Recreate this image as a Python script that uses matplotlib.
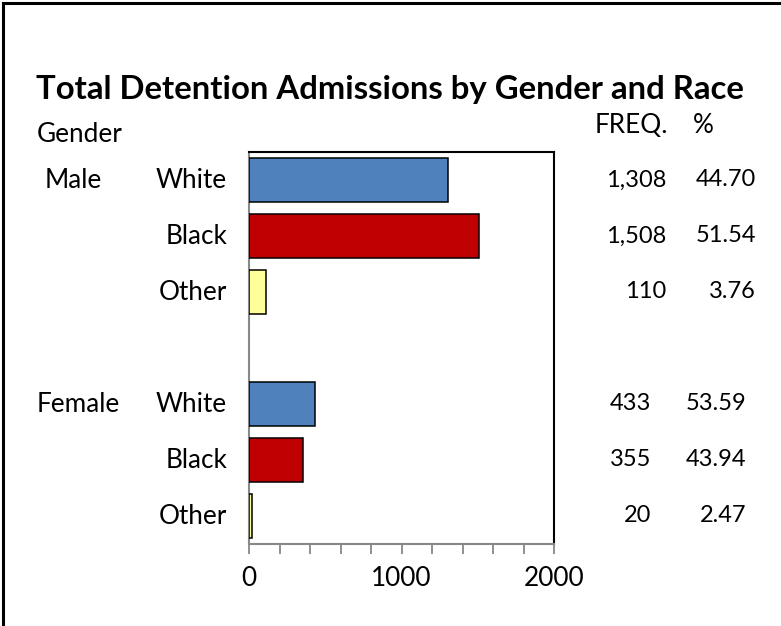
import matplotlib
matplotlib.use("Agg")
import matplotlib.pyplot as plt
import matplotlib.transforms as mtransforms
from matplotlib.ticker import MultipleLocator

# ---- data ----
title = "Total Detention Admissions by Gender and Race"
genders = ["Male", "Female"]
races = ["White", "Black", "Other"]
male_freq = [1308, 1508, 110]
female_freq = [433, 355, 20]
male_pct = [44.70, 51.54, 3.76]
female_pct = [53.59, 43.94, 2.47]
race_colors = ["#4F81BD", "#C00000", "#FFFF99"]
x_ticks = [0, 1000, 2000]

W, H = 781, 626
plt.rcParams['font.family'] = ['Lato', 'DejaVu Sans']
fig = plt.figure(figsize=(W / 100, H / 100), dpi=100)

WORD_FS = 18.8
NUM_FS = 17

def fx(px):
    return px / W

def fy(py):
    return 1 - py / H

ax = fig.add_axes([fx(249), fy(544), fx(554) - fx(249), fy(152) - fy(544)])

male_slots = [0, 1, 2]
female_slots = [4, 5, 6]
ax.barh(male_slots, male_freq, height=0.8, color=race_colors,
        edgecolor="black", linewidth=1.1, zorder=3)
ax.barh(female_slots, female_freq, height=0.8, color=race_colors,
        edgecolor="black", linewidth=1.1, zorder=3)

ax.set_xlim(0, 2000)
ax.set_ylim(6.5, -0.5)
ax.set_yticks([])
ax.set_xticks(x_ticks)
ax.xaxis.set_minor_locator(MultipleLocator(200))
ax.tick_params(axis="x", which="both", direction="out", length=7, width=1.3,
               color="#888888", labelsize=WORD_FS, pad=9)
for s in ["top", "right"]:
    ax.spines[s].set_color("black")
    ax.spines[s].set_linewidth(1.5)
for s in ["left", "bottom"]:
    ax.spines[s].set_color("#888888")
    ax.spines[s].set_linewidth(1.5)

# Title and headers
fig.text(fx(390), fy(99), title, ha="center", va="baseline",
         fontsize=23.7, fontweight="bold")
fig.text(fx(37), fy(142), "Gender", ha="left", va="baseline", fontsize=WORD_FS)
fig.text(fx(595), fy(133), "FREQ.", ha="left", va="baseline", fontsize=WORD_FS)
fig.text(fx(693), fy(133), "%", ha="left", va="baseline", fontsize=WORD_FS)

tr = mtransforms.blended_transform_factory(fig.transFigure, ax.transData)
groups = [
    (genders[0], male_slots, male_freq, male_pct, 45, 666, 756),
    (genders[1], female_slots, female_freq, female_pct, 37, 651, 746),
]
for gname, slots, freqs, pcts, gx, fxr, pxr in groups:
    ax.text(fx(gx), slots[0], gname, transform=tr, ha="left", va="center",
            fontsize=WORD_FS)
    for slot, race, fq, pc in zip(slots, races, freqs, pcts):
        ax.text(fx(227), slot, race, transform=tr, ha="right", va="center",
                fontsize=WORD_FS)
        ax.text(fx(fxr), slot, f"{fq:,}", transform=tr, ha="right",
                va="center", fontsize=NUM_FS)
        ax.text(fx(pxr), slot, f"{pc:.2f}", transform=tr, ha="right",
                va="center", fontsize=NUM_FS)

# outer frame (top and left edges)
fig.add_artist(plt.Line2D([fx(3), 1], [fy(3), fy(3)], color="black",
                          linewidth=2.2, transform=fig.transFigure))
fig.add_artist(plt.Line2D([fx(3), fx(3)], [fy(3), 0], color="black",
                          linewidth=2.2, transform=fig.transFigure))

fig.savefig("out.png", dpi=100, facecolor="white")
